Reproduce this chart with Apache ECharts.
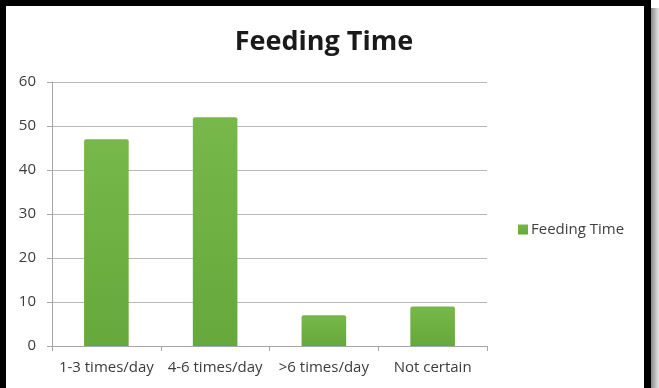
<!DOCTYPE html>
<html>
<head>
<meta charset="utf-8">
<script src="https://cdn.jsdelivr.net/npm/echarts@6/dist/echarts.min.js"></script>
<style>
  html, body { margin: 0; padding: 0; background: #fff; }
  #main { width: 659px; height: 388px; }
</style>
</head>
<body>
<div id="main"></div>
<script>
var categories = ['1-3 times/day', '4-6 times/day', '>6 times/day', 'Not certain']
var feedingTime = [47, 52, 7, 9]
var yTicks = [0, 10, 20, 30, 40, 50, 60]

var chart = echarts.init(document.getElementById('main'))
var font = '"Open Sans", "Noto Sans", sans-serif'

chart.setOption({
  backgroundColor: '#fff',
  animation: false,
  title: {
    text: 'Feeding Time',
    left: 319,
    top: 24,
    textAlign: 'center',
    textStyle: {
      fontFamily: font,
      fontWeight: 'bold',
      fontSize: 27,
      color: '#1a1a1a'
    }
  },
  legend: {
    data: ['Feeding Time'],
    orient: 'vertical',
    left: 513,
    top: 217,
    itemWidth: 10,
    itemHeight: 10,
    itemGap: 6,
    icon: 'rect',
    textStyle: {
      fontFamily: font,
      fontSize: 15,
      color: '#404040',
      padding: [0, 0, 0, -2]
    }
  },
  grid: {
    left: 52,
    right: 659 - 487,
    top: 82,
    bottom: 388 - 346,
    containLabel: false
  },
  xAxis: {
    type: 'category',
    data: categories,
    axisLine: { lineStyle: { color: '#a6a6a6', width: 1 } },
    axisTick: { show: true, length: 5, alignWithLabel: false, lineStyle: { color: '#a6a6a6' } },
    axisLabel: {
      fontFamily: font,
      fontSize: 15,
      color: '#3c3c3c',
      margin: 14,
      interval: 0
    }
  },
  yAxis: {
    type: 'value',
    min: yTicks[0],
    max: yTicks[yTicks.length - 1],
    interval: 10,
    axisLine: { show: true, lineStyle: { color: '#a6a6a6', width: 1 } },
    axisTick: { show: true, length: 5, inside: false, lineStyle: { color: '#a6a6a6' } },
    splitLine: { lineStyle: { color: '#b8b8b8', width: 1.2 } },
    axisLabel: {
      fontFamily: font,
      fontSize: 15,
      color: '#3c3c3c',
      margin: 16
    }
  },
  series: [{
    name: 'Feeding Time',
    type: 'bar',
    data: feedingTime,
    barWidth: '41%',
    itemStyle: {
      color: new echarts.graphic.LinearGradient(0, 0, 0, 1, [
        { offset: 0, color: '#78b84a' },
        { offset: 1, color: '#66a83c' }
      ]),
      borderRadius: [2, 2, 0, 0]
    }
  }],
  graphic: {
    elements: [
      // photo frame: black edges plus grey shadow on the right
      { type: 'rect', id: 'shadow', left: 651, top: 8, shape: { width: 8, height: 380 },
        style: { fill: new echarts.graphic.LinearGradient(0, 0, 1, 0, [
          { offset: 0, color: '#8a8a8a' }, { offset: 1, color: '#e6e6e6' }]) }, z: 100 },
      { type: 'rect', id: 'frameTop', left: 0, top: 0, shape: { width: 651, height: 6 }, style: { fill: '#000' }, z: 101 },
      { type: 'rect', id: 'frameLeft', left: 0, top: 0, shape: { width: 6, height: 388 }, style: { fill: '#000' }, z: 101 },
      { type: 'rect', id: 'frameRight', left: 644, top: 0, shape: { width: 7, height: 388 }, style: { fill: '#000' }, z: 101 }
    ]
  }
})
</script>
</body>
</html>
